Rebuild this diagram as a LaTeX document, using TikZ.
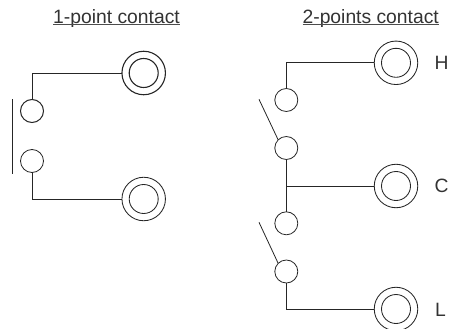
\documentclass[tikz,border=0pt]{standalone}
\usepackage{fontspec}
\setmainfont{Liberation Sans}
\tikzset{
  wire/.style={line width=0.95pt,draw=black!85},
  pad/.style={circle,draw=black!85,line width=0.8pt,minimum size=23pt,inner sep=0pt,outer sep=0pt},
  ringout/.style={circle,draw=black!85,line width=0.85pt,minimum size=43.5pt,inner sep=0pt,outer sep=0pt},
  ringin/.style={circle,draw=black!85,line width=0.85pt,minimum size=29pt,inner sep=0pt,outer sep=0pt},
  label/.style={inner sep=0pt,outer sep=0pt,text=black!80,font=\fontsize{19.3}{22}\selectfont},
  uline/.style={line width=0.8pt,draw=black!70}
}
\begin{document}
\begin{tikzpicture}[x=1pt,y=-1pt]
\useasboundingbox (0,0) rectangle (450,329);
% titles
\node[label,anchor=base west] (t1) at (53.2,23.3) {1-point contact};
\node[label,anchor=base west] (t2) at (302.6,23.3) {2-points contact};
\draw[uline] ([yshift=-1.6pt]t1.base west) -- ([yshift=-1.6pt]t1.base east);
\draw[uline] ([yshift=-1.6pt]t2.base west) -- ([yshift=-1.6pt]t2.base east);
% left
\node[ringout,line width=1.1pt] (A) at (143.7,73) {};
\node[ringin,line width=1.1pt] (Ai) at (143.7,73) {};
\node[ringout] (B) at (143.7,199) {};
\node[ringin] (Bi) at (143.7,199) {};
\node[pad,line width=1pt] (p1) at (32,111) {};
\node[pad] (p2) at (32,161) {};
\draw[wire] (p1.north) |- (A.west);
\draw[wire] (p2.south) |- (B.west);
\coordinate (bt) at (12.7,99);
\coordinate (bb) at (12.7,173.5);
\draw[wire] (bt) -- (bb);
% right
\node[ringout] (H) at (396,62.8) {};
\node[ringin] (Hi) at (396,62.8) {};
\node[ringout] (C) at (396,186) {};
\node[ringin] (Ci) at (396,186) {};
\node[ringout] (L) at (396,309) {};
\node[ringin] (Li) at (396,309) {};
\node[pad] (s1) at (286.3,100) {};
\node[pad] (s2) at (286.3,148) {};
\node[pad] (s3) at (286.3,223.3) {};
\node[pad] (s4) at (286.3,271.5) {};
\draw[wire] (s1.north) |- (H.west);
\draw[wire] (s2.south) -- (s3.north);
\draw[wire] (s2.south |- C.west) -- (C.west);
\draw[wire] (s4.south) |- (L.west);
\coordinate (k1) at (259,99.3);
\coordinate (k2) at (259,222.3);
\draw[wire,line width=0.8pt] (k1) -- (s2.north west);
\draw[wire,line width=0.8pt] (k2) -- (s4.north west);
% terminal letters
\node[label,anchor=base west] (lh) at (434.7,69.6) {H};
\node[label,anchor=base west] (lc) at (434.7,192.8) {C};
\node[label,anchor=base west] (ll) at (435,316.6) {L};
\end{tikzpicture}
\end{document}
